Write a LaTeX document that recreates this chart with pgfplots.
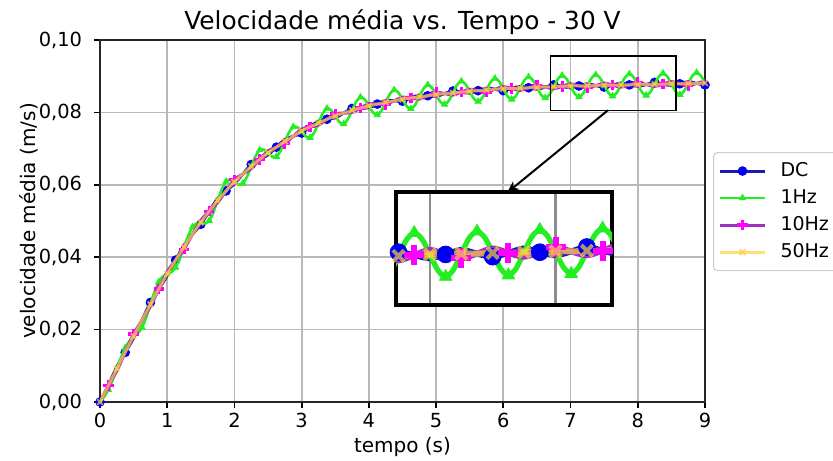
\documentclass[border=0pt]{standalone}
\usepackage{pgfplots}
\pgfplotsset{compat=1.18}
\usepackage{pgfplotstable}
\usepackage{fontspec}
\setmainfont{DejaVu Sans}
\usetikzlibrary{arrows.meta}

\definecolor{dcl}{HTML}{1A1AB0}
\definecolor{dcm}{HTML}{0000F0}
\definecolor{gl}{HTML}{22EE22}
\definecolor{ml}{HTML}{A030C0}
\definecolor{mm}{HTML}{FF00FF}
\definecolor{yl}{HTML}{FFD040}
\definecolor{gridc}{HTML}{B8B8B8}

\pgfplotstableread{
t dc f10 f50
0.000 0.0000 0.0000 0.0000
0.125 0.0046 0.0046 0.0046
0.250 0.0097 0.0086 0.0092
0.375 0.0137 0.0137 0.0137
0.500 0.0177 0.0188 0.0182
0.625 0.0226 0.0226 0.0226
0.750 0.0275 0.0264 0.0270
0.875 0.0312 0.0312 0.0312
1.000 0.0349 0.0360 0.0354
1.125 0.0392 0.0392 0.0392
1.250 0.0433 0.0422 0.0428
1.375 0.0463 0.0463 0.0463
1.500 0.0491 0.0502 0.0496
1.625 0.0527 0.0527 0.0527
1.750 0.0562 0.0551 0.0557
1.875 0.0583 0.0583 0.0583
2.000 0.0603 0.0614 0.0608
2.125 0.0630 0.0630 0.0630
2.250 0.0656 0.0645 0.0651
2.375 0.0670 0.0670 0.0670
2.500 0.0683 0.0694 0.0688
2.625 0.0704 0.0704 0.0704
2.750 0.0725 0.0714 0.0720
2.875 0.0734 0.0734 0.0734
3.000 0.0743 0.0754 0.0748
3.125 0.0760 0.0760 0.0760
3.250 0.0776 0.0765 0.0771
3.375 0.0781 0.0781 0.0781
3.500 0.0785 0.0796 0.0790
3.625 0.0798 0.0798 0.0798
3.750 0.0811 0.0800 0.0806
3.875 0.0812 0.0812 0.0812
4.000 0.0813 0.0824 0.0818
4.125 0.0823 0.0823 0.0823
4.250 0.0833 0.0822 0.0828
4.375 0.0832 0.0832 0.0832
4.500 0.0831 0.0842 0.0836
4.625 0.0840 0.0840 0.0840
4.750 0.0848 0.0837 0.0843
4.875 0.0846 0.0846 0.0846
5.000 0.0844 0.0855 0.0849
5.125 0.0852 0.0852 0.0852
5.250 0.0859 0.0848 0.0854
5.375 0.0856 0.0856 0.0856
5.500 0.0853 0.0864 0.0858
5.625 0.0860 0.0860 0.0860
5.750 0.0867 0.0856 0.0862
5.875 0.0864 0.0864 0.0864
6.000 0.0860 0.0871 0.0865
6.125 0.0866 0.0866 0.0866
6.250 0.0872 0.0861 0.0867
6.375 0.0868 0.0868 0.0868
6.500 0.0864 0.0875 0.0869
6.625 0.0870 0.0870 0.0870
6.750 0.0876 0.0865 0.0871
6.875 0.0872 0.0872 0.0872
7.000 0.0868 0.0879 0.0873
7.125 0.0873 0.0873 0.0873
7.250 0.0879 0.0868 0.0874
7.375 0.0874 0.0874 0.0874
7.500 0.0870 0.0881 0.0875
7.625 0.0875 0.0875 0.0875
7.750 0.0881 0.0870 0.0876
7.875 0.0876 0.0876 0.0876
8.000 0.0872 0.0883 0.0877
8.125 0.0877 0.0877 0.0877
8.250 0.0883 0.0872 0.0878
8.375 0.0878 0.0878 0.0878
8.500 0.0874 0.0885 0.0879
8.625 0.0879 0.0879 0.0879
8.750 0.0885 0.0874 0.0880
8.875 0.0880 0.0880 0.0880
9.000 0.0876 0.0887 0.0881
}\data

\pgfplotstableread{
t f1
0.0000 0.0000
0.0625 0.00145
0.1250 0.0034
0.1875 0.00605
0.2500 0.0092
0.3125 0.0123
0.3750 0.0149
0.4375 0.0168
0.5000 0.0182
0.5625 0.0190
0.6250 0.0206
0.6875 0.0234
0.7500 0.0270
0.8125 0.0305
0.8750 0.0332
0.9375 0.0347
1.0000 0.0354
1.0625 0.0359
1.1250 0.0372
1.1875 0.0396
1.2500 0.0428
1.3125 0.04595
1.3750 0.0483
1.4375 0.04935
1.5000 0.0496
1.5625 0.04935
1.6250 0.0501
1.6875 0.0524
1.7500 0.0557
1.8125 0.0588
1.8750 0.0609
1.9375 0.06135
2.0000 0.0608
2.0625 0.0601
2.1250 0.0604
2.1875 0.06225
2.2500 0.0651
2.3125 0.06785
2.3750 0.0696
2.4375 0.0697
2.5000 0.0688
2.5625 0.0678
2.6250 0.0678
2.6875 0.0694
2.7500 0.0720
2.8125 0.0745
2.8750 0.0760
2.9375 0.0759
3.0000 0.0748
3.0625 0.0733
3.1250 0.0730
3.1875 0.07445
3.2500 0.0771
3.3125 0.0797
3.3750 0.0811
3.4375 0.08065
3.5000 0.0790
3.5625 0.0773
3.6250 0.0768
3.6875 0.0781
3.7500 0.0806
3.8125 0.0830
3.8750 0.0842
3.9375 0.0836
4.0000 0.0818
4.0625 0.07995
4.1250 0.0793
4.1875 0.08045
4.2500 0.0828
4.3125 0.0851
4.3750 0.0862
4.4375 0.0855
4.5000 0.0836
4.5625 0.0817
4.6250 0.0810
4.6875 0.08205
4.7500 0.0843
4.8125 0.08655
4.8750 0.0876
4.9375 0.08685
5.0000 0.0849
5.0625 0.08295
5.1250 0.0822
5.1875 0.0832
5.2500 0.0854
5.3125 0.0876
5.3750 0.0886
5.4375 0.0878
5.5000 0.0858
5.5625 0.0838
5.6250 0.0830
5.6875 0.0840
5.7500 0.0862
5.8125 0.0884
5.8750 0.0894
5.9375 0.08855
6.0000 0.0865
6.0625 0.08445
6.1250 0.0836
6.1875 0.08455
6.2500 0.0867
6.3125 0.08885
6.3750 0.0898
6.4375 0.08895
6.5000 0.0869
6.5625 0.08485
6.6250 0.0840
6.6875 0.08495
6.7500 0.0871
6.8125 0.08925
6.8750 0.0902
6.9375 0.08935
7.0000 0.0873
7.0625 0.0852
7.1250 0.0843
7.1875 0.08525
7.2500 0.0874
7.3125 0.0895
7.3750 0.0904
7.4375 0.08955
7.5000 0.0875
7.5625 0.0854
7.6250 0.0845
7.6875 0.08545
7.7500 0.0876
7.8125 0.0897
7.8750 0.0906
7.9375 0.08975
8.0000 0.0877
8.0625 0.0856
8.1250 0.0847
8.1875 0.08565
8.2500 0.0878
8.3125 0.0899
8.3750 0.0908
8.4375 0.08995
8.5000 0.0879
8.5625 0.0858
8.6250 0.0849
8.6875 0.08585
8.7500 0.0880
8.8125 0.0901
8.8750 0.0910
8.9375 0.09015
9.0000 0.0881
}\greendata

\begin{document}
\begin{tikzpicture}
\useasboundingbox (-50pt,-29pt) rectangle (366.5pt,201pt);
\begin{axis}[
  at={(0pt,0pt)}, anchor=south west,
  width=302.5pt, height=181pt, scale only axis,
  xmin=0, xmax=9, ymin=0, ymax=0.1,
  xtick={0,1,...,9},
  ytick={0,0.02,0.04,0.06,0.08,0.1},
  yticklabels={{0,00},{0,02},{0,04},{0,06},{0,08},{0,10}},
  scaled y ticks=false, scaled x ticks=false,
  /pgf/number format/assume math mode=true,
  tick label style={font=\fontsize{9.7}{11.6}\selectfont},
  xticklabel style={anchor=base, yshift=-9.5pt},
  yticklabel style={anchor=east, inner sep=0pt, xshift=-5.8pt},
  tick align=outside, tick pos=left,
  major tick length=3pt,
  every tick/.style={black, line width=0.85pt},
  axis line style={black!85, line width=0.85pt},
  grid=major,
  major grid style={gridc, line width=0.85pt},
  title={Velocidade média vs. Tempo - 30 V},
  title style={at={(axis description cs:0.5,1)}, anchor=base, yshift=-0.7pt, font=\fontsize{12.4}{14.8}\selectfont},
  xlabel={tempo (s)},
  xlabel style={at={(axis description cs:0.5,0)}, anchor=base, yshift=-25pt, font=\fontsize{10}{12}\selectfont},
  ylabel={velocidade média (m/s)},
  ylabel style={at={([xshift=-32pt]axis description cs:0,0.5)}, anchor=base, font=\fontsize{10}{12}\selectfont},
  clip mode=individual,
  legend cell align=left,
  legend style={at={(1,0.6906)}, anchor=north west, xshift=4pt,
    draw=black!20, rounded corners=2pt, line width=0.5pt,
    font=\fontsize{9.5}{11.4}\selectfont,
    inner xsep=2.5pt, inner ysep=3pt, row sep=1pt,
    /tikz/every odd column/.append style={column sep=5pt}},
  legend image code/.code={\draw[mark repeat=2, mark phase=2] plot coordinates {(0pt,0pt) (11.25pt,0pt) (22.5pt,0pt)};},
]
\addplot[color=dcl, line width=1.5pt, smooth, mark=*, mark repeat=3, mark size=2.2pt,
  mark options={solid, draw=dcm, fill=dcm, line width=0.4pt}] table[x=t, y=dc]{\data};
\addlegendentry{DC}
\addplot[color=gl, line width=1.3pt, smooth, mark=triangle*, mark repeat=4, mark phase=3, mark size=1.8pt,
  mark options={solid, draw=gl, fill=gl, line width=0.4pt}] table[x=t, y=f1]{\greendata};
\addlegendentry{1Hz}
\addplot[color=ml, line width=1.5pt, smooth, mark=+, mark repeat=3, mark phase=2, mark size=2.6pt,
  mark options={solid, draw=mm, line width=1.6pt}] table[x=t, y=f10]{\data};
\addlegendentry{10Hz}
\addplot[color=yl, opacity=0.7, line width=1.5pt, smooth, mark=x, mark repeat=2, mark size=2pt,
  mark options={solid, draw=yl, line width=1pt}] table[x=t, y=f50]{\data};
\addlegendentry{50Hz}
\draw[black, line width=0.7pt] (axis cs:6.70,0.0806) rectangle (axis cs:8.57,0.0956);
\draw[black, line width=1pt, -{Stealth[length=6pt, width=5pt]}] (axis cs:7.557,0.0806) -- (axis cs:6.055,0.0578);
\end{axis}

\begin{axis}[
  at={(148pt,48.5pt)}, anchor=south west,
  width=108pt, height=56.5pt, scale only axis,
  xmin=6.73, xmax=8.45, ymin=0.0805, ymax=0.0957,
  xtick={7,8}, xticklabels={}, ytick=\empty,
  scaled x ticks=false, scaled y ticks=false,
  major tick length=0pt,
  grid=major, major grid style={black!45, line width=1.4pt},
  axis line style={black, line width=2.4pt},
  axis background/.style={fill=white},
]
\addplot[color=dcl, line width=3pt, smooth, mark=*, mark repeat=3, mark size=4.2pt,
  mark options={solid, draw=dcm, fill=dcm, line width=0.4pt}] table[x=t, y=dc]{\data};
\addplot[color=gl, line width=2.6pt, smooth, mark=triangle*, mark repeat=4, mark phase=3, mark size=3.6pt,
  mark options={solid, draw=gl, fill=gl, line width=0.4pt}] table[x=t, y=f1]{\greendata};
\addplot[color=ml, line width=3pt, smooth, mark=+, mark repeat=3, mark phase=2, mark size=5pt,
  mark options={solid, draw=mm, line width=3pt}] table[x=t, y=f10]{\data};
\addplot[color=yl, opacity=0.7, line width=3pt, smooth, mark=x, mark repeat=2, mark size=4pt,
  mark options={solid, draw=yl, line width=2pt}] table[x=t, y=f50]{\data};
\end{axis}
\end{tikzpicture}
\end{document}
